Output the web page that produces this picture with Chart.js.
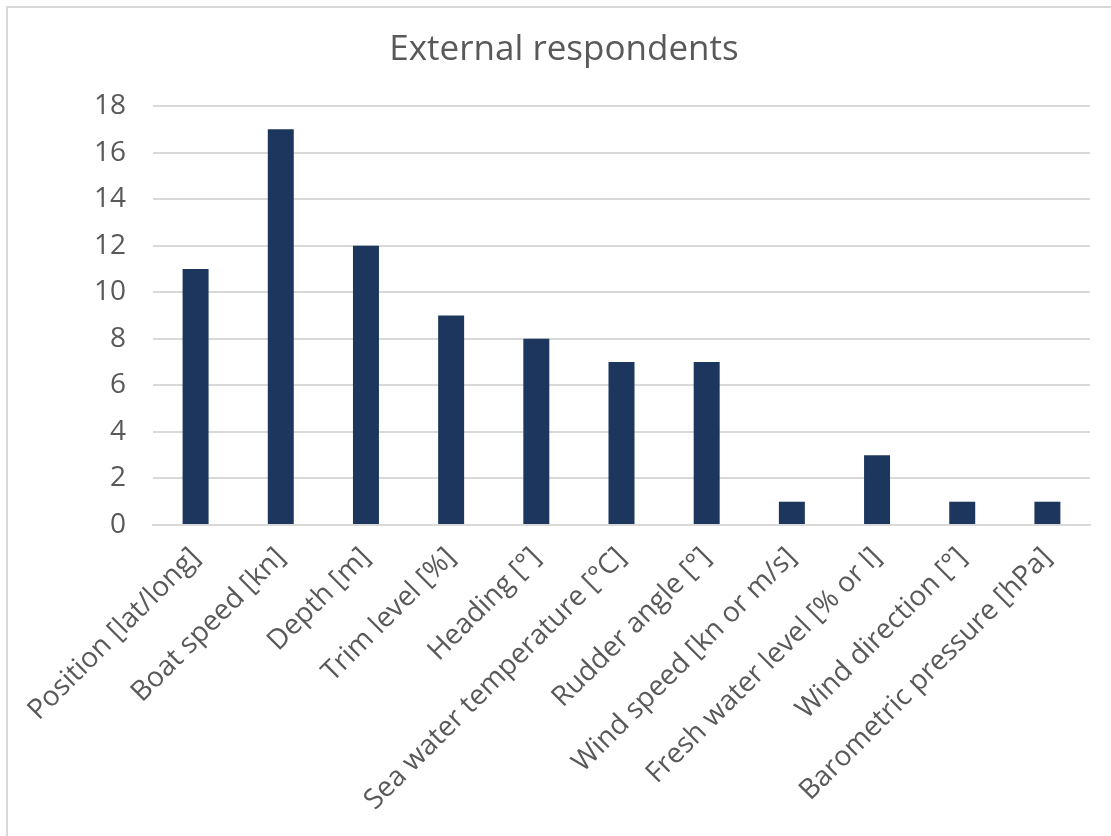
<!DOCTYPE html>
<html>
<head>
<meta charset="utf-8">
<script src="https://cdn.jsdelivr.net/npm/chart.js@4"></script>
<style>
  html, body { margin: 0; padding: 0; background: #fff; overflow: hidden; }
  #wrap { position: relative; width: 1111px; height: 836px; }
  #frame { position: absolute; left: 6px; top: 6px; width: 1200px; height: 900px;
           border: 2px solid #d9d9d9; box-sizing: border-box; pointer-events: none; }
  canvas { position: absolute; left: 0; top: 0; }
</style>
</head>
<body>
<div id="wrap">
  <canvas id="chart" width="1111" height="836"></canvas>
  <div id="frame"></div>
</div>
<script>
const categories = [
  "Position [lat/long]",
  "Boat speed [kn]",
  "Depth [m]",
  "Trim level [%]",
  "Heading [°]",
  "Sea water temperature [°C]",
  "Rudder angle [°]",
  "Wind speed [kn or m/s]",
  "Fresh water level [% or l]",
  "Wind direction [°]",
  "Barometric pressure [hPa]"
];
const respondents = [11, 17, 12, 9, 8, 7, 7, 1, 3, 1, 1];
const yTicks = [0, 2, 4, 6, 8, 10, 12, 14, 16, 18];

const FONT = "'Open Sans', 'DejaVu Sans', sans-serif";
const TEXT = "#595959";
const GRID = "#d9d9d9";

new Chart(document.getElementById("chart"), {
  type: "bar",
  data: {
    labels: categories,
    datasets: [{
      label: "External respondents",
      data: respondents,
      backgroundColor: "#1c365d",
      borderWidth: 0,
      categoryPercentage: 1,
      barPercentage: 0.305
    }]
  },
  options: {
    responsive: false,
    animation: false,
    devicePixelRatio: 1,
    layout: { padding: { left: 38, right: 21, top: 0, bottom: 0 } },
    plugins: {
      legend: { display: false },
      tooltip: { enabled: false },
      title: {
        display: true,
        text: "External respondents",
        color: TEXT,
        font: { family: FONT, size: 35, weight: "normal", lineHeight: 1.2 },
        padding: { top: 29, bottom: 35 }
      }
    },
    scales: {
      x: {
        grid: { display: false, drawTicks: false },
        border: { display: true, color: GRID, width: 2 },
        ticks: {
          color: TEXT,
          font: { family: FONT, size: 28 },
          maxRotation: 45,
          minRotation: 45,
          autoSkip: false,
          padding: 16
        },
        afterFit: (s) => { s.height = 311; }
      },
      y: {
        min: 0,
        max: 18,
        afterBuildTicks: (s) => { s.ticks = yTicks.map(v => ({ value: v })); },
        grid: { color: GRID, lineWidth: 2, drawTicks: false },
        border: { display: false },
        ticks: {
          color: TEXT,
          font: { family: FONT, size: 28 },
          padding: 27
        },
        afterFit: (s) => { s.width = 115; }
      }
    }
  }
});
</script>
</body>
</html>
